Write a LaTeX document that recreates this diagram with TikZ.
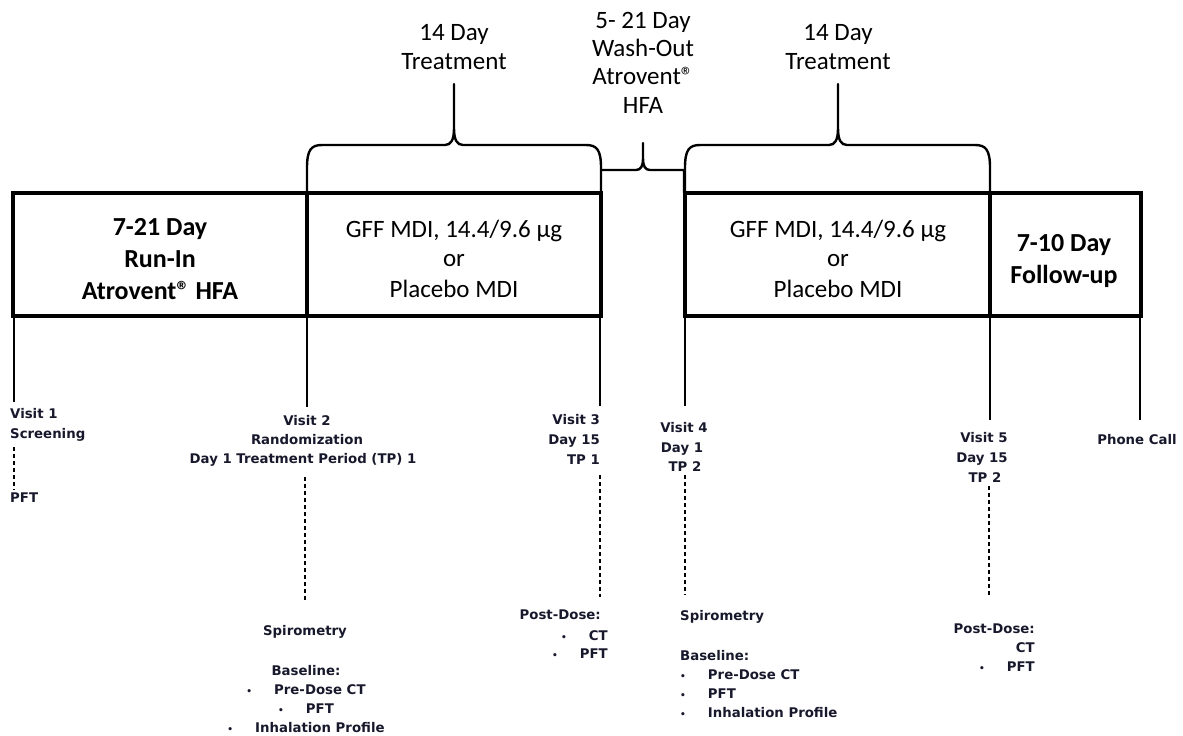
\documentclass[tikz,border=0pt]{standalone}
\usepackage{fontspec}
\setmainfont{Carlito}
\newfontfamily\labfam{DejaVu Sans}
\definecolor{labc}{RGB}{24,24,44}
\newcommand\bul{{\fontsize{9}{9}\selectfont\textbullet}\hspace{22pt}}
\newcommand\regmark{®}
\begin{document}
\begin{tikzpicture}[x=1pt,y=-1pt,
  box/.style={draw, line width=4.5pt, inner sep=0pt, outer sep=0pt},
  toplab/.style={font=\fontsize{25}{28}\selectfont, inner sep=0pt, anchor=base},
  boxb/.style={font=\fontsize{26}{28}\selectfont\bfseries, inner sep=0pt, anchor=base},
  boxr/.style={font=\fontsize{25}{28}\selectfont, inner sep=0pt, anchor=base},
  lab/.style={font=\labfam\bfseries\fontsize{13.3}{16}\selectfont, text=labc, inner sep=0pt},
  brace/.style={line width=2.4pt, line join=round},
  vline/.style={line width=1.4pt},
  dline/.style={line width=1.1pt, dash pattern=on 4pt off 3pt}]
\useasboundingbox (0,0) rectangle (1183,736);

% boxes
\node[box, minimum width=294pt, minimum height=123pt, anchor=north west] (b1) at (13,193) {};
\node[box, minimum width=294pt, minimum height=123pt, anchor=north west] (b2) at (307,193) {};
\node[box, minimum width=305pt, minimum height=123pt, anchor=north west] (b3) at (685,193) {};
\node[box, minimum width=151pt, minimum height=123pt, anchor=north west] (b4) at (990,193) {};

% box texts
\node[boxb] (t1a) at (160,235) {7-21 Day};
\node[boxb] (t1b) at (160,267) {Run-In};
\node[boxb] (t1c) at (160,299) {Atrovent\regmark\ HFA};
\node[boxr] (t2a) at (454,237) {GFF MDI, 14.4/9.6 µg};
\node[boxr] (t2b) at (454,266) {or};
\node[boxr] (t2c) at (454,297) {Placebo MDI};
\node[boxr] (t3a) at (838,237) {GFF MDI, 14.4/9.6 µg};
\node[boxr] (t3b) at (838,266) {or};
\node[boxr] (t3c) at (838,297) {Placebo MDI};
\node[boxb] (t4a) at (1064,251) {7-10 Day};
\node[boxb] (t4b) at (1064,283) {Follow-up};

% braces
\draw[brace] (307,193) -- (307,168) .. controls (307,150) and (311,145) .. (322,145) -- (445,145)
  .. controls (451,145) and (454,140) .. (454,128) -- (454,84) -- (454,128)
  .. controls (454,140) and (457,145) .. (463,145) -- (586,145)
  .. controls (597,145) and (601,150) .. (601,168) -- (601,193);
\draw[brace] (601,170) -- (636,170) .. controls (641,170) and (643,166) .. (643,158) -- (643,143) -- (643,158)
  .. controls (643,166) and (645,170) .. (650,170) -- (684,170) -- (684,193);
\draw[brace] (685,193) -- (685,168) .. controls (685,150) and (689,145) .. (700,145) -- (829,145)
  .. controls (835,145) and (838,140) .. (838,128) -- (838,84) -- (838,128)
  .. controls (838,140) and (841,145) .. (847,145) -- (975,145)
  .. controls (986,145) and (990,150) .. (990,168) -- (990,193);

% top labels
\node[toplab] (tr1a) at (454,40) {14 Day};
\node[toplab] (tr1b) at (454,69) {Treatment};
\node[toplab] (wa) at (643,28) {5- 21 Day};
\node[toplab] (wb) at (643,56) {Wash-Out};
\node[toplab] (wc) at (643,84) {Atrovent\regmark};
\node[toplab] (wd) at (643,113) {HFA};
\node[toplab] (tr2a) at (838,40) {14 Day};
\node[toplab] (tr2b) at (838,69) {Treatment};

% visit lines
\coordinate (v1e) at (14,402);
\coordinate (v2e) at (307,407);
\coordinate (v3e) at (600,406);
\coordinate (v4e) at (685,406);
\coordinate (v5e) at (990,420);
\coordinate (v6e) at (1140,420);
\draw[vline] (14,316) -- (v1e);
\draw[vline] (b2.south west) -- (v2e);
\draw[vline] (600,316) -- (v3e);
\draw[vline] (b3.south west) -- (v4e);
\draw[vline] (b4.south west) -- (v5e);
\draw[vline] (1140,316) -- (v6e);

% Visit 1
\node[lab, anchor=base west] (v1a) at (10,418) {Visit 1};
\node[lab, anchor=base west] (v1b) at (10,438) {Screening};
\node[lab, anchor=base west] (v1c) at (10,502) {PFT};
\draw[dline] (14,447) -- (14,490);

% Visit 2
\node[lab, anchor=base] (v2a) at (307,425) {Visit 2};
\node[lab, anchor=base] (v2b) at (307,444) {Randomization};
\node[lab, anchor=base] (v2c) at (303,463) {Day 1 Treatment Period (TP) 1};
\draw[dline] (305,477) -- (305,600);
\node[lab, anchor=base] (v2d) at (305,635) {Spirometry};
\node[lab, anchor=base] (v2e) at (306,675) {Baseline:};
\node[lab, anchor=base] (v2f) at (306,694) {\bul Pre-Dose CT};
\node[lab, anchor=base] (v2g) at (306,713) {\bul PFT};
\node[lab, anchor=base] (v2h) at (306,732) {\bul Inhalation Profile};

% Visit 3
\node[lab, anchor=base east] (v3a) at (600,424) {Visit 3};
\node[lab, anchor=base east] (v3b) at (600,444) {Day 15};
\node[lab, anchor=base east] (v3c) at (600,464) {TP 1};
\draw[dline] (600,475) -- (600,597);
\node[lab, anchor=base east] (v3d) at (601,619) {Post-Dose:};
\node[lab, anchor=base east] (v3e) at (608,640) {\bul CT};
\node[lab, anchor=base east] (v3f) at (608,658) {\bul PFT};

% Visit 4
\node[lab, anchor=base] (v4a) at (684,432) {Visit 4};
\node[lab, anchor=base] (v4b) at (682,452) {Day 1};
\node[lab, anchor=base] (v4c) at (685,471) {TP 2};
\draw[dline] (685,475) -- (685,595);
\node[lab, anchor=base west] (v4d) at (680,620) {Spirometry};
\node[lab, anchor=base west] (v4e) at (680,660) {Baseline:};
\node[lab, anchor=base west] (v4f) at (680,679) {\bul Pre-Dose CT};
\node[lab, anchor=base west] (v4g) at (680,698) {\bul PFT};
\node[lab, anchor=base west] (v4h) at (680,717) {\bul Inhalation Profile};

% Visit 5
\node[lab, anchor=base] (v5a) at (984,442) {Visit 5};
\node[lab, anchor=base] (v5b) at (982,462) {Day 15};
\node[lab, anchor=base] (v5c) at (985,482) {TP 2};
\draw[dline] (989,486) -- (989,597);
\node[lab, anchor=base east] (v5d) at (1035,633) {Post-Dose:};
\node[lab, anchor=base east] (v5e) at (1035,652) {CT};
\node[lab, anchor=base east] (v5f) at (1035,671) {\bul PFT};

% Phone call
\node[lab, anchor=base] (pc) at (1137,444) {Phone Call};
\end{tikzpicture}
\end{document}
